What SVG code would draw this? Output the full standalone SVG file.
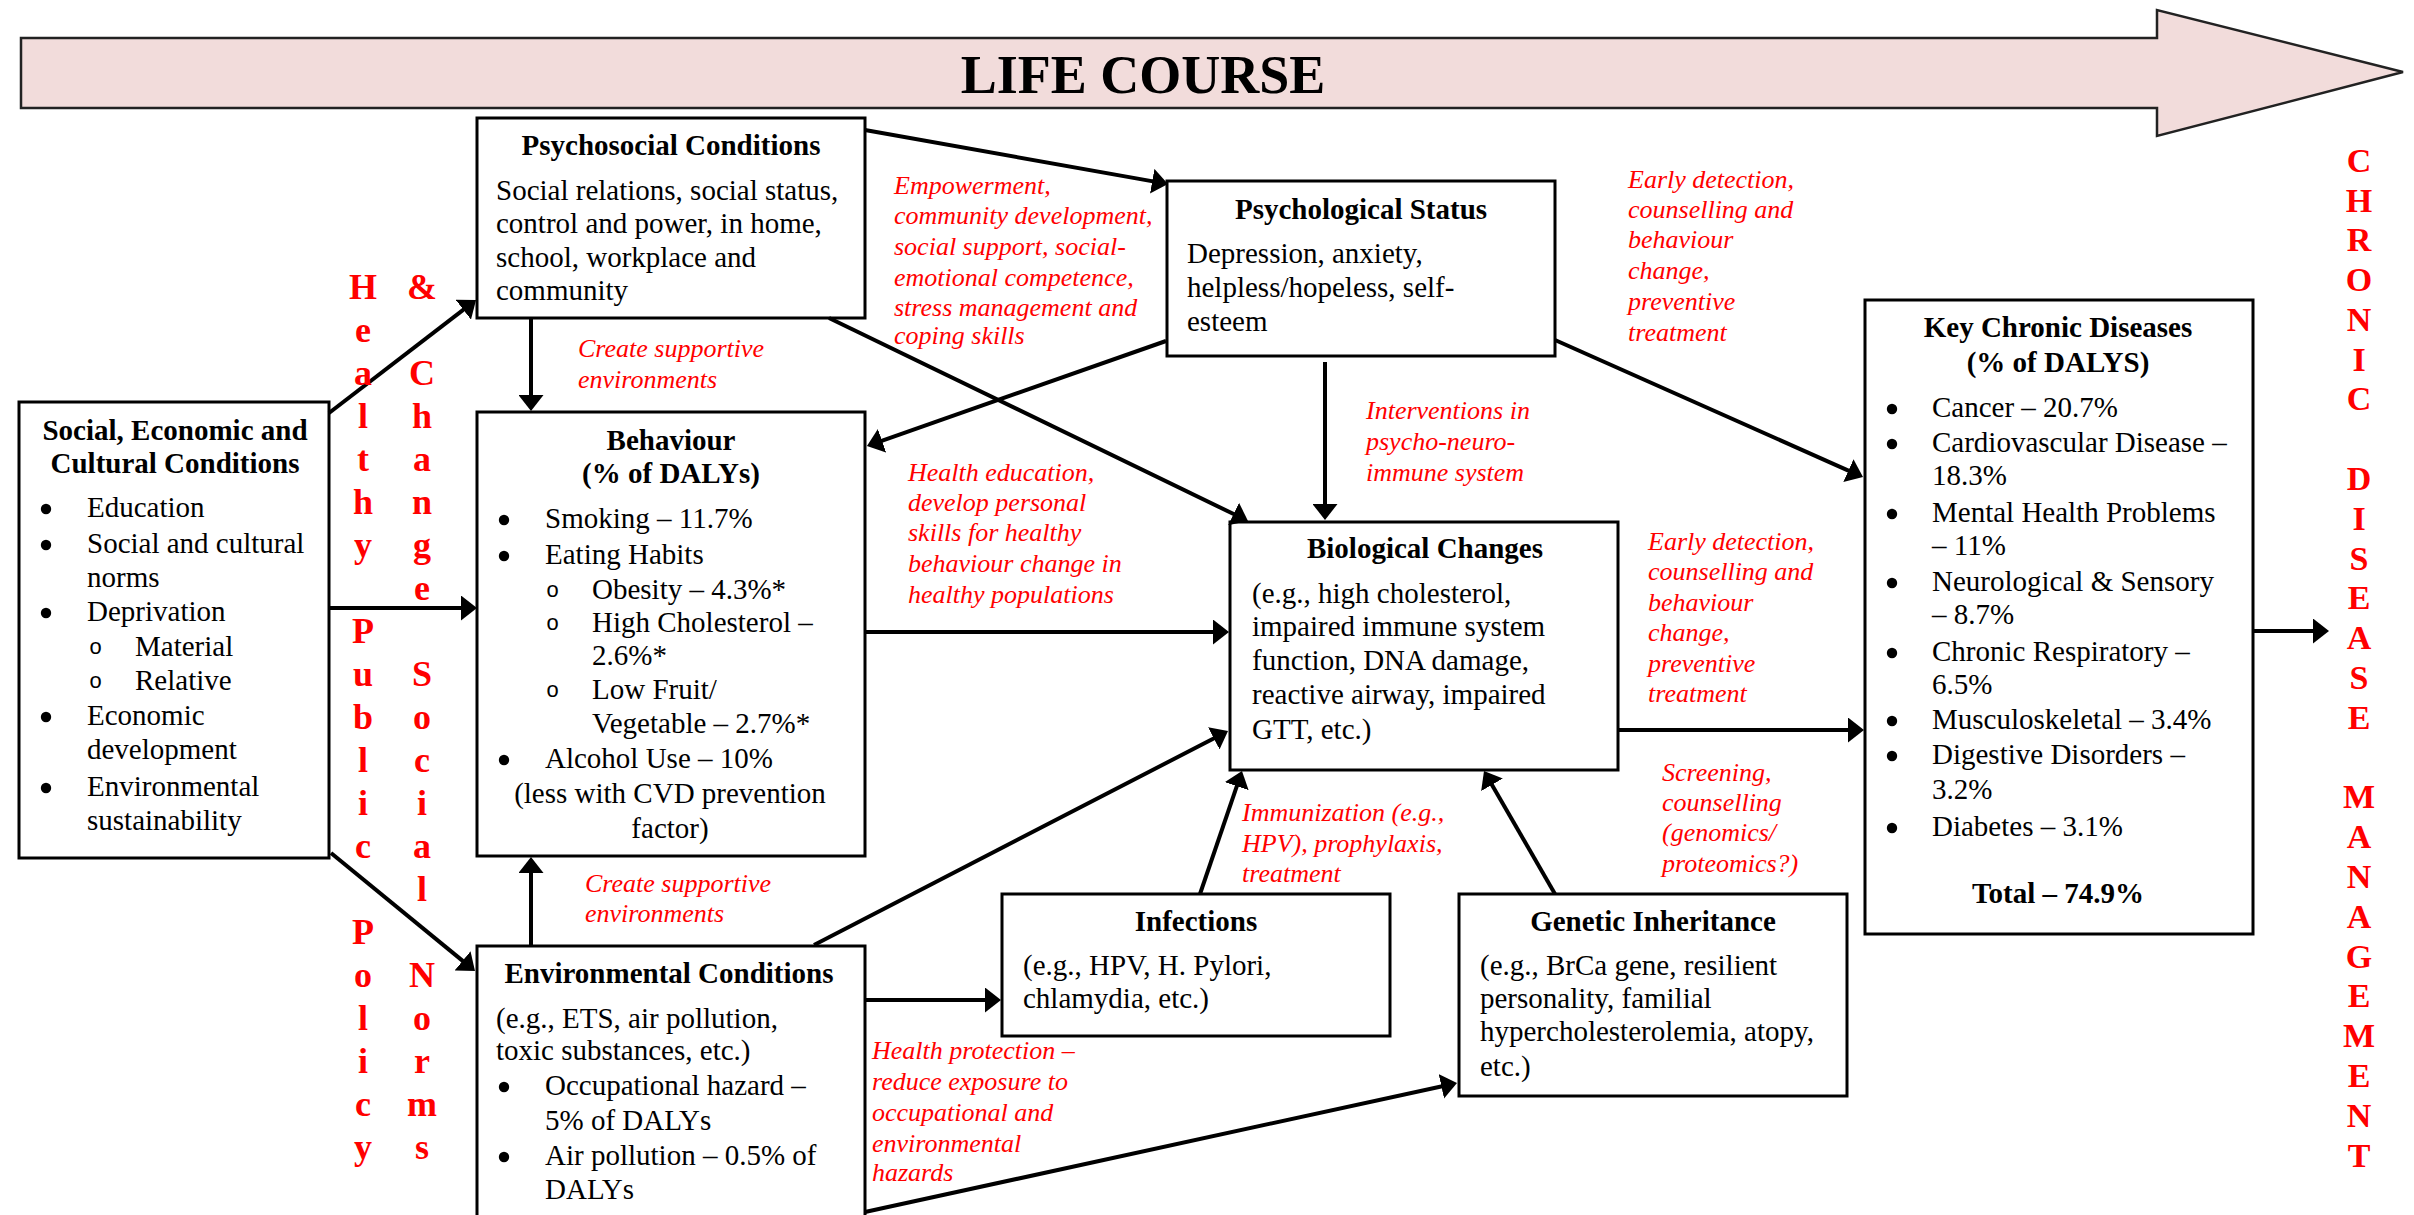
<svg xmlns="http://www.w3.org/2000/svg" width="2414" height="1215" viewBox="0 0 2414 1215">
<defs>
<marker id="ah" viewBox="0 0 16 25" markerWidth="16" markerHeight="25" refX="8" refY="12.5" orient="auto" markerUnits="userSpaceOnUse">
<path d="M0,0 L16,12.5 L0,25 z" fill="#000"/>
</marker>
<circle id="bu" cx="0" cy="0" r="5.2" fill="#000"/>
</defs>
<style>
text{font-family:"Liberation Serif","Times New Roman",serif;fill:#000}
.b{font-size:29px}
.t{font-size:29px;font-weight:bold;text-anchor:middle}
.c{font-size:29px;text-anchor:middle}
.r{font-size:26px;font-style:italic;fill:#ff0000}
.v{font-size:36px;font-weight:bold;fill:#ff0000;text-anchor:middle}
.w{font-size:34px;font-weight:bold;fill:#ff0000;text-anchor:middle}
.o{font-family:"Liberation Mono","Courier New",monospace;font-size:22px}
.box{fill:#fff;stroke:#000;stroke-width:3}
.cn line{stroke:#000;stroke-width:4;marker-end:url(#ah)}
</style>
<rect width="2414" height="1215" fill="#fff"/>

<g id="lifecourse">
<polygon points="21,38 2157,38 2157,10 2403,72 2157,136 2157,108 21,108" fill="#f2dcdb" stroke="#222" stroke-width="2.5"/>
<text x="1143" y="93" style="font-size:54px;font-weight:bold;text-anchor:middle">LIFE COURSE</text>
</g>

<g id="social">
<rect class="box" x="19" y="402" width="310" height="456"/>
<text class="t" x="175" y="440">Social, Economic and</text>
<text class="t" x="175" y="473">Cultural Conditions</text>
<use href="#bu" x="46" y="509"/><text class="b" x="87" y="517">Education</text>
<use href="#bu" x="46" y="545"/><text class="b" x="87" y="553">Social and cultural</text>
<text class="b" x="87" y="587">norms</text>
<use href="#bu" x="46" y="613"/><text class="b" x="87" y="621">Deprivation</text>
<text class="o" x="89" y="654">o</text><text class="b" x="135" y="656">Material</text>
<text class="o" x="89" y="688">o</text><text class="b" x="135" y="690">Relative</text>
<use href="#bu" x="46" y="717"/><text class="b" x="87" y="725">Economic</text>
<text class="b" x="87" y="759">development</text>
<use href="#bu" x="46" y="788"/><text class="b" x="87" y="796">Environmental</text>
<text class="b" x="87" y="830">sustainability</text>
</g>

<g id="psychosocial">
<rect class="box" x="477" y="118" width="388" height="200"/>
<text class="t" x="671" y="155">Psychosocial Conditions</text>
<text class="b" x="496" y="200">Social relations, social status,</text>
<text class="b" x="496" y="233">control and power, in home,</text>
<text class="b" x="496" y="267">school, workplace and</text>
<text class="b" x="496" y="300">community</text>
</g>

<g id="behaviour">
<rect class="box" x="477" y="412" width="388" height="444"/>
<text class="t" x="671" y="450">Behaviour</text>
<text class="t" x="671" y="483">(% of DALYs)</text>
<use href="#bu" x="504" y="520"/><text class="b" x="545" y="528">Smoking – 11.7%</text>
<use href="#bu" x="504" y="556"/><text class="b" x="545" y="564">Eating Habits</text>
<text class="o" x="546" y="597">o</text><text class="b" x="592" y="599">Obesity – 4.3%*</text>
<text class="o" x="546" y="630">o</text><text class="b" x="592" y="632">High Cholesterol –</text>
<text class="b" x="592" y="665">2.6%*</text>
<text class="o" x="546" y="697">o</text><text class="b" x="592" y="699">Low Fruit/</text>
<text class="b" x="592" y="733">Vegetable – 2.7%*</text>
<use href="#bu" x="504" y="760"/><text class="b" x="545" y="768">Alcohol Use – 10%</text>
<text class="c" x="670" y="803">(less with CVD prevention</text>
<text class="c" x="670" y="838">factor)</text>
</g>

<g id="environmental">
<rect class="box" x="477" y="946" width="388" height="280"/>
<text class="t" x="669" y="983">Environmental Conditions</text>
<text class="b" x="496" y="1028">(e.g., ETS, air pollution,</text>
<text class="b" x="496" y="1060">toxic substances, etc.)</text>
<use href="#bu" x="504" y="1087"/><text class="b" x="545" y="1095">Occupational hazard –</text>
<text class="b" x="545" y="1130">5% of DALYs</text>
<use href="#bu" x="504" y="1157"/><text class="b" x="545" y="1165">Air pollution – 0.5% of</text>
<text class="b" x="545" y="1199">DALYs</text>
</g>

<g id="psychological">
<rect class="box" x="1167" y="181" width="388" height="175"/>
<text class="t" x="1361" y="219">Psychological Status</text>
<text class="b" x="1187" y="263">Depression, anxiety,</text>
<text class="b" x="1187" y="297">helpless/hopeless, self-</text>
<text class="b" x="1187" y="331">esteem</text>
</g>

<g id="biological">
<rect class="box" x="1230" y="522" width="388" height="248"/>
<text class="t" x="1425" y="558">Biological Changes</text>
<text class="b" x="1252" y="603">(e.g., high cholesterol,</text>
<text class="b" x="1252" y="636">impaired immune system</text>
<text class="b" x="1252" y="670">function, DNA damage,</text>
<text class="b" x="1252" y="704">reactive airway, impaired</text>
<text class="b" x="1252" y="739">GTT, etc.)</text>
</g>

<g id="infections">
<rect class="box" x="1002" y="894" width="388" height="142"/>
<text class="t" x="1196" y="931">Infections</text>
<text class="b" x="1023" y="975">(e.g., HPV, H. Pylori,</text>
<text class="b" x="1023" y="1008">chlamydia, etc.)</text>
</g>

<g id="genetic">
<rect class="box" x="1459" y="894" width="388" height="202"/>
<text class="t" x="1653" y="931">Genetic Inheritance</text>
<text class="b" x="1480" y="975">(e.g., BrCa gene, resilient</text>
<text class="b" x="1480" y="1008">personality, familial</text>
<text class="b" x="1480" y="1041">hypercholesterolemia, atopy,</text>
<text class="b" x="1480" y="1076">etc.)</text>
</g>

<g id="chronic">
<rect class="box" x="1865" y="300" width="388" height="634"/>
<text class="t" x="2058" y="337">Key Chronic Diseases</text>
<text class="t" x="2058" y="372">(% of DALYS)</text>
<use href="#bu" x="1892" y="409"/><text class="b" x="1932" y="417">Cancer – 20.7%</text>
<use href="#bu" x="1892" y="444"/><text class="b" x="1932" y="452">Cardiovascular Disease –</text>
<text class="b" x="1932" y="485">18.3%</text>
<use href="#bu" x="1892" y="514"/><text class="b" x="1932" y="522">Mental Health Problems</text>
<text class="b" x="1932" y="555">– 11%</text>
<use href="#bu" x="1892" y="583"/><text class="b" x="1932" y="591">Neurological &amp; Sensory</text>
<text class="b" x="1932" y="624">– 8.7%</text>
<use href="#bu" x="1892" y="653"/><text class="b" x="1932" y="661">Chronic Respiratory –</text>
<text class="b" x="1932" y="694">6.5%</text>
<use href="#bu" x="1892" y="721"/><text class="b" x="1932" y="729">Musculoskeletal – 3.4%</text>
<use href="#bu" x="1892" y="756"/><text class="b" x="1932" y="764">Digestive Disorders –</text>
<text class="b" x="1932" y="799">3.2%</text>
<use href="#bu" x="1892" y="828"/><text class="b" x="1932" y="836">Diabetes – 3.1%</text>
<text class="t" x="2058" y="903">Total – 74.9%</text>
</g>

<g id="connectors" class="cn">
<line x1="329" y1="413" x2="469.7" y2="304.9"/>
<line x1="329" y1="608" x2="469" y2="608"/>
<line x1="331" y1="853" x2="468.8" y2="965.9"/>
<line x1="531" y1="318" x2="531" y2="403"/>
<line x1="531" y1="946" x2="531" y2="865"/>
<line x1="865" y1="130" x2="1160.1" y2="182.6"/>
<line x1="829" y1="318" x2="1240.8" y2="517.5"/>
<line x1="1166" y1="341" x2="874.5" y2="443.4"/>
<line x1="1325" y1="362" x2="1325" y2="512"/>
<line x1="1555" y1="340" x2="1855.7" y2="473.8"/>
<line x1="865" y1="632" x2="1221" y2="632"/>
<line x1="814" y1="945" x2="1220.9" y2="734.7"/>
<line x1="865" y1="1000" x2="993" y2="1000"/>
<line x1="865" y1="1212" x2="1449.2" y2="1084.7"/>
<line x1="1200" y1="894" x2="1239.4" y2="778.6"/>
<line x1="1555" y1="894" x2="1488" y2="777.9"/>
<line x1="1618" y1="730" x2="1856" y2="730"/>
<line x1="2253" y1="631" x2="2321" y2="631"/>
</g>

<g id="labels">
<text class="r"><tspan x="894" y="194">Empowerment,</tspan><tspan x="894" y="224">community development,</tspan><tspan x="894" y="255">social support, social-</tspan><tspan x="894" y="286">emotional competence,</tspan><tspan x="894" y="316">stress management and</tspan><tspan x="894" y="344">coping skills</tspan></text>
<text class="r"><tspan x="578" y="357">Create supportive</tspan><tspan x="578" y="388">environments</tspan></text>
<text class="r"><tspan x="908" y="481">Health education,</tspan><tspan x="908" y="511">develop personal</tspan><tspan x="908" y="541">skills for healthy</tspan><tspan x="908" y="572">behaviour change in</tspan><tspan x="908" y="603">healthy populations</tspan></text>
<text class="r"><tspan x="1628" y="188">Early detection,</tspan><tspan x="1628" y="218">counselling and</tspan><tspan x="1628" y="248">behaviour</tspan><tspan x="1628" y="279">change,</tspan><tspan x="1628" y="310">preventive</tspan><tspan x="1628" y="341">treatment</tspan></text>
<text class="r"><tspan x="1366" y="419">Interventions in</tspan><tspan x="1366" y="450">psycho-neuro-</tspan><tspan x="1366" y="481">immune system</tspan></text>
<text class="r"><tspan x="1648" y="550">Early detection,</tspan><tspan x="1648" y="580">counselling and</tspan><tspan x="1648" y="611">behaviour</tspan><tspan x="1648" y="641">change,</tspan><tspan x="1648" y="672">preventive</tspan><tspan x="1648" y="702">treatment</tspan></text>
<text class="r"><tspan x="1662" y="781">Screening,</tspan><tspan x="1662" y="811">counselling</tspan><tspan x="1662" y="841">(genomics/</tspan><tspan x="1662" y="872">proteomics?)</tspan></text>
<text class="r"><tspan x="1242" y="821">Immunization (e.g.,</tspan><tspan x="1242" y="852">HPV), prophylaxis,</tspan><tspan x="1242" y="882">treatment</tspan></text>
<text class="r"><tspan x="585" y="892">Create supportive</tspan><tspan x="585" y="922">environments</tspan></text>
<text class="r"><tspan x="872" y="1059">Health protection –</tspan><tspan x="872" y="1090">reduce exposure to</tspan><tspan x="872" y="1121">occupational and</tspan><tspan x="872" y="1152">environmental</tspan><tspan x="872" y="1181">hazards</tspan></text>
</g>

<g id="policy">
<text class="v"><tspan x="363" y="299">H</tspan><tspan x="363" y="342">e</tspan><tspan x="363" y="385">a</tspan><tspan x="363" y="428">l</tspan><tspan x="363" y="471">t</tspan><tspan x="363" y="514">h</tspan><tspan x="363" y="557">y</tspan><tspan x="363" y="643">P</tspan><tspan x="363" y="686">u</tspan><tspan x="363" y="729">b</tspan><tspan x="363" y="772">l</tspan><tspan x="363" y="815">i</tspan><tspan x="363" y="858">c</tspan><tspan x="363" y="944">P</tspan><tspan x="363" y="987">o</tspan><tspan x="363" y="1030">l</tspan><tspan x="363" y="1073">i</tspan><tspan x="363" y="1116">c</tspan><tspan x="363" y="1159">y</tspan></text>
<text class="v"><tspan x="422" y="299">&amp;</tspan><tspan x="422" y="385">C</tspan><tspan x="422" y="428">h</tspan><tspan x="422" y="471">a</tspan><tspan x="422" y="514">n</tspan><tspan x="422" y="557">g</tspan><tspan x="422" y="600">e</tspan><tspan x="422" y="686">S</tspan><tspan x="422" y="729">o</tspan><tspan x="422" y="772">c</tspan><tspan x="422" y="815">i</tspan><tspan x="422" y="858">a</tspan><tspan x="422" y="901">l</tspan><tspan x="422" y="987">N</tspan><tspan x="422" y="1030">o</tspan><tspan x="422" y="1073">r</tspan><tspan x="422" y="1116">m</tspan><tspan x="422" y="1159">s</tspan></text>
</g>

<g id="cdm">
<text class="w"><tspan x="2359" y="172">C</tspan><tspan x="2359" y="212">H</tspan><tspan x="2359" y="251">R</tspan><tspan x="2359" y="291">O</tspan><tspan x="2359" y="331">N</tspan><tspan x="2359" y="371">I</tspan><tspan x="2359" y="410">C</tspan><tspan x="2359" y="490">D</tspan><tspan x="2359" y="530">I</tspan><tspan x="2359" y="570">S</tspan><tspan x="2359" y="609">E</tspan><tspan x="2359" y="649">A</tspan><tspan x="2359" y="689">S</tspan><tspan x="2359" y="729">E</tspan><tspan x="2359" y="808">M</tspan><tspan x="2359" y="848">A</tspan><tspan x="2359" y="888">N</tspan><tspan x="2359" y="928">A</tspan><tspan x="2359" y="968">G</tspan><tspan x="2359" y="1007">E</tspan><tspan x="2359" y="1047">M</tspan><tspan x="2359" y="1087">E</tspan><tspan x="2359" y="1127">N</tspan><tspan x="2359" y="1167">T</tspan></text>
</g>
</svg>
